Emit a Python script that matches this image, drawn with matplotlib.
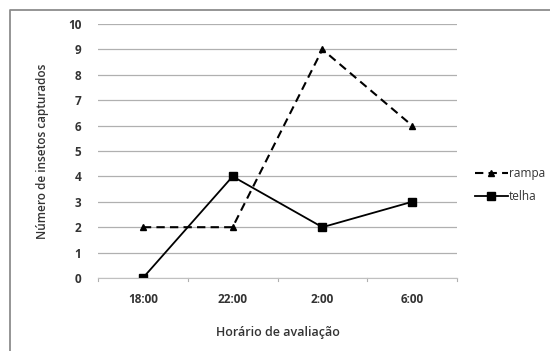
import matplotlib
matplotlib.use("Agg")
import matplotlib.pyplot as plt
from matplotlib.lines import Line2D

plt.rcParams['font.family'] = ['Open Sans', 'DejaVu Sans']

horarios = ["18:00", "22:00", "2:00", "6:00"]
rampa = [2, 2, 9, 6]
telha = [0, 4, 2, 3]

fig = plt.figure(figsize=(5.5, 3.51), dpi=100)
ax = fig.add_axes([98/550, 1 - 278/351, (457 - 98)/550, (278 - 24)/351])

# moldura externa (só aparecem as bordas de cima e da esquerda)
fig.lines.append(Line2D([10/550, 10/550, 1.0], [0.0, 1 - 10/351, 1 - 10/351],
                        transform=fig.transFigure, color='#8c8c8c', linewidth=1.3))

x = list(range(len(horarios)))
ax.plot(x, rampa, color='black', linestyle='--', marker='^', markersize=4.5,
        linewidth=1.5, dashes=(4, 2.5), label='rampa')
ax.plot(x, telha, color='black', linestyle='-', marker='s', markersize=5.5,
        linewidth=1.3, label='telha')

ax.set_xlim(-0.5, 3.5)
ax.set_ylim(0, 10)
ax.set_yticks(range(0, 11))
ax.set_xticks(x)
ax.set_xticklabels(horarios)
ax.yaxis.grid(True, color='#b0b0b0', linewidth=0.9)
ax.set_axisbelow(True)

for s in ['top', 'right', 'left']:
    ax.spines[s].set_visible(False)
ax.spines['bottom'].set_color('#c0c0c0')
ax.tick_params(axis='y', length=0, pad=12, labelsize=8.5)
ax.tick_params(axis='x', length=0, pad=11, labelsize=8.5)
for lbl in ax.get_xticklabels() + ax.get_yticklabels():
    lbl.set_fontweight('bold')
    lbl.set_color('#333333')

# marcas de divisão entre categorias
for xb in [-0.5, 0.5, 1.5, 2.5, 3.5]:
    ax.plot([xb, xb], [0, -0.12], color='#b0b0b0', linewidth=0.8, clip_on=False)

ax.set_xlabel("Horário de avaliação", fontsize=9, fontweight='semibold', color='#333333', labelpad=14)
ax.set_ylabel("Número de insetos capturados", fontsize=8.5, fontweight='semibold', color='#333333', labelpad=14)

leg = fig.legend(*ax.get_legend_handles_labels(), loc='center left',
                 bbox_to_anchor=(470/550, 1 - 185/351), frameon=False, fontsize=8.5,
                 handlelength=2.8, handletextpad=0.1, labelspacing=0.9, borderaxespad=0)
for t in leg.get_texts():
    t.set_color('#333333')

fig.savefig("out.png", dpi=100)
